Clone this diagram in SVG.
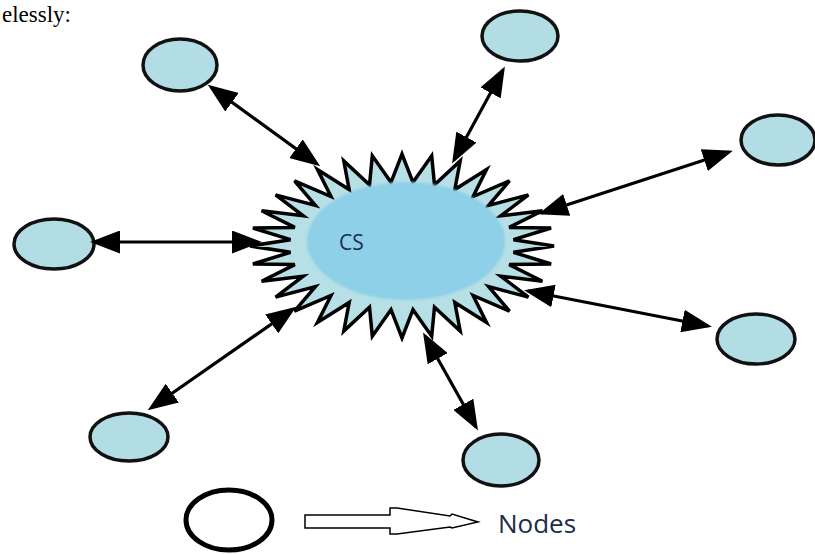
<svg xmlns="http://www.w3.org/2000/svg" width="815" height="554" viewBox="0 0 815 554">
  <style>
    .node { fill: #b2dde4; stroke: #111; stroke-width: 3.5; }
    .link { stroke: #000; stroke-width: 3.2; fill: none; marker-start: url(#head); marker-end: url(#head); }
    .label { font-family: "Open Sans", "Liberation Sans", sans-serif; fill: #1c2c4c; }
  </style>
  <defs>
    <marker id="head" viewBox="0 0 30 23" refX="26" refY="11.5" markerWidth="30" markerHeight="23" markerUnits="userSpaceOnUse" orient="auto-start-reverse">
      <path d="M0,0 L30,11.5 L0,23 Z" fill="#000"/>
    </marker>
    <filter id="soft" x="-10%" y="-10%" width="120%" height="120%">
      <feGaussianBlur stdDeviation="1.2"/>
    </filter>
  </defs>

  <rect width="815" height="554" fill="#fff"/>

  <!-- line of text at the top edge -->
  <text x="2" y="22" font-family="'Liberation Serif', serif" font-size="23" fill="#000">elessly:</text>

  <!-- central server -->
  <g id="cs">
    <polygon fill="#b6dfe6" stroke="#000" stroke-width="3.5" stroke-linejoin="miter"
      points="554,246 513.5,252.3 551.1,264 509.2,264.6 542.4,281.2 500.8,276.2 528.4,297.1 488.6,286.6 509.5,311.1 473.1,295.5 486.5,322.5 454.8,302.4 460.2,331 434.5,307.2 431.7,336.2 413,309.7 402,338 391,309.7 372.3,336.2 369.5,307.2 343.8,331 349.2,302.4 317.5,322.5 331,295.5 294.5,311.1 315.4,286.6 275.6,297.1 303.2,276.2 261.6,281.2 294.8,264.6 252.9,264 290.5,252.3 250,246 290.5,239.7 252.9,228 294.8,227.4 261.6,210.8 303.2,215.8 275.6,194.9 315.4,205.4 294.5,180.9 331,196.5 317.5,169.5 349.2,189.6 343.8,161 369.5,184.8 372.3,155.8 391,182.3 402,154 413,182.3 431.7,155.8 434.5,184.8 460.2,161 454.8,189.6 486.5,169.5 473.1,196.5 509.5,180.9 488.6,205.4 528.4,194.9 500.8,215.8 542.4,210.8 509.2,227.4 551.1,228 513.5,239.7"/>
    <ellipse cx="406" cy="241" rx="99" ry="59" fill="#8dd0e8" filter="url(#soft)"/>
    <text class="label" x="339" y="250" font-size="21">CS</text>
  </g>

  <!-- client nodes -->
  <g id="node-top-left"><ellipse class="node" cx="180" cy="65" rx="37" ry="26"/></g>
  <g id="node-top"><ellipse class="node" cx="520" cy="36" rx="38" ry="25"/></g>
  <g id="node-right"><ellipse class="node" cx="778" cy="140" rx="37" ry="25"/></g>
  <g id="node-left"><ellipse class="node" cx="54" cy="244" rx="40" ry="25"/></g>
  <g id="node-right-low"><ellipse class="node" cx="756" cy="339" rx="39" ry="25"/></g>
  <g id="node-bottom-left"><ellipse class="node" cx="129" cy="437" rx="39" ry="24"/></g>
  <g id="node-bottom"><ellipse class="node" cx="501" cy="460" rx="38" ry="26"/></g>

  <!-- two-way links between the server and each node -->
  <g id="links">
    <line class="link" x1="211" y1="87" x2="317" y2="164"/>
    <line class="link" x1="503" y1="70" x2="454" y2="160"/>
    <line class="link" x1="729" y1="152" x2="542" y2="213"/>
    <line class="link" x1="94" y1="242" x2="258" y2="242"/>
    <line class="link" x1="708" y1="326" x2="528" y2="291"/>
    <line class="link" x1="151" y1="408" x2="293" y2="309"/>
    <line class="link" x1="476" y1="427" x2="425" y2="336"/>
  </g>

  <!-- legend -->
  <g id="legend">
    <ellipse cx="229" cy="520" rx="43" ry="30" fill="#fff" stroke="#000" stroke-width="5"/>
    <polygon fill="#fff" stroke="#000" stroke-width="1.5" stroke-linejoin="miter"
      points="305,515 390,515 390,508 397,508 450,516 452,514 478,522 452,528 450,527 397,534 390,534 390,528 305,528"/>
    <text class="label" x="498" y="533" font-size="26">Nodes</text>
  </g>
</svg>
